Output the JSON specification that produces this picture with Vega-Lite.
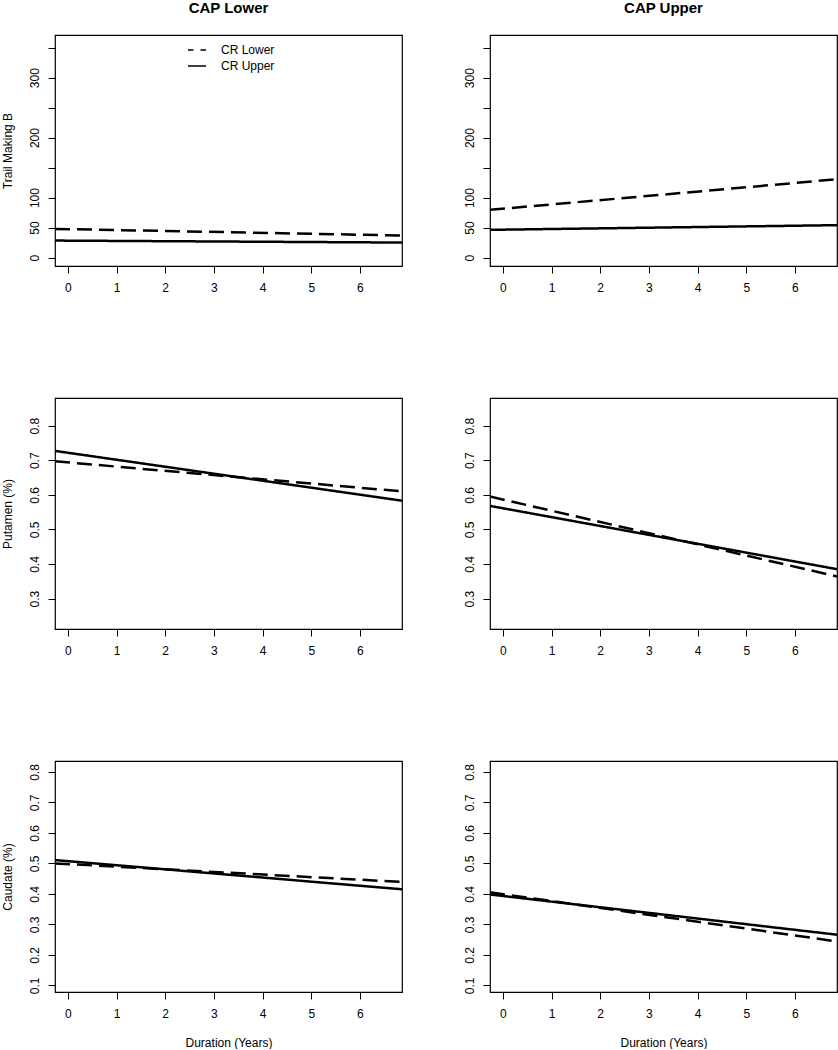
{
  "$schema": "https://vega.github.io/schema/vega-lite/v6.json",
  "padding": 0,
  "background": "white",
  "bounds": "flush",
  "columns": 2,
  "spacing": {"row": 132, "column": 88},
  "data": {
    "values": [
      {"panel": "TL", "group": "CR Lower", "x": -0.264, "y": 47.8},
      {"panel": "TL", "group": "CR Lower", "x": 6.864, "y": 36.7},
      {"panel": "TL", "group": "CR Upper", "x": -0.264, "y": 28.3},
      {"panel": "TL", "group": "CR Upper", "x": 6.864, "y": 25.0},
      {"panel": "TR", "group": "CR Lower", "x": -0.264, "y": 79.5},
      {"panel": "TR", "group": "CR Lower", "x": 6.864, "y": 130.6},
      {"panel": "TR", "group": "CR Upper", "x": -0.264, "y": 46.2},
      {"panel": "TR", "group": "CR Upper", "x": 6.864, "y": 54.0},
      {"panel": "ML", "group": "CR Lower", "x": -0.264, "y": 0.697},
      {"panel": "ML", "group": "CR Lower", "x": 6.864, "y": 0.610},
      {"panel": "ML", "group": "CR Upper", "x": -0.264, "y": 0.727},
      {"panel": "ML", "group": "CR Upper", "x": 6.864, "y": 0.583},
      {"panel": "MR", "group": "CR Lower", "x": -0.264, "y": 0.595},
      {"panel": "MR", "group": "CR Lower", "x": 6.864, "y": 0.364},
      {"panel": "MR", "group": "CR Upper", "x": -0.264, "y": 0.568},
      {"panel": "MR", "group": "CR Upper", "x": 6.864, "y": 0.385},
      {"panel": "BL", "group": "CR Lower", "x": -0.264, "y": 0.500},
      {"panel": "BL", "group": "CR Lower", "x": 6.864, "y": 0.439},
      {"panel": "BL", "group": "CR Upper", "x": -0.264, "y": 0.511},
      {"panel": "BL", "group": "CR Upper", "x": 6.864, "y": 0.415},
      {"panel": "BR", "group": "CR Lower", "x": -0.264, "y": 0.405},
      {"panel": "BR", "group": "CR Lower", "x": 6.864, "y": 0.244},
      {"panel": "BR", "group": "CR Upper", "x": -0.264, "y": 0.398},
      {"panel": "BR", "group": "CR Upper", "x": 6.864, "y": 0.266}
    ]
  },
  "resolve": {"legend": {"strokeDash": "independent"}},
  "concat": [
    {
      "width": 347, "height": 231,
      "title": {"text": "CAP Lower", "anchor": "middle", "fontSize": 15, "fontWeight": "bold", "font": "Liberation Sans", "color": "black", "offset": 19},
      "transform": [{"filter": "datum.panel === 'TL'"}],
      "mark": {"type": "line", "clip": true, "strokeWidth": 2.5, "color": "black"},
      "encoding": {
        "x": {"field": "x", "type": "quantitative", "scale": {"domain": [-0.264, 6.864], "nice": false, "zero": false}, "axis": {"values": [0, 1, 2, 3, 4, 5, 6], "title": null}},
        "y": {"field": "y", "type": "quantitative", "scale": {"domain": [-14.1, 371.1], "nice": false, "zero": false}, "axis": {"values": [0, 50, 100, 150, 200, 250, 300, 350], "labelExpr": "datum.value == 150 || datum.value == 250 || datum.value == 350 ? '' : datum.label", "title": "Trail Making B"}},
        "strokeDash": {"field": "group", "type": "nominal", "scale": {"domain": ["CR Lower", "CR Upper"], "range": [[15, 7], [1, 0]]},
          "legend": {"title": null, "orient": "none", "legendX": 132, "legendY": 5, "symbolType": "stroke", "symbolSize": 324, "symbolStrokeWidth": 1.3, "symbolStrokeColor": "black", "symbolDashOffset": 9.5, "labelFont": "Liberation Sans", "labelFontSize": 12, "labelColor": "black", "labelOffset": 14, "rowPadding": -6}}
      }
    },
    {
      "width": 347, "height": 231,
      "title": {"text": "CAP Upper", "anchor": "middle", "fontSize": 15, "fontWeight": "bold", "font": "Liberation Sans", "color": "black", "offset": 19},
      "transform": [{"filter": "datum.panel === 'TR'"}],
      "mark": {"type": "line", "clip": true, "strokeWidth": 2.5, "color": "black"},
      "encoding": {
        "x": {"field": "x", "type": "quantitative", "scale": {"domain": [-0.264, 6.864], "nice": false, "zero": false}, "axis": {"values": [0, 1, 2, 3, 4, 5, 6], "title": null}},
        "y": {"field": "y", "type": "quantitative", "scale": {"domain": [-14.1, 371.1], "nice": false, "zero": false}, "axis": {"values": [0, 50, 100, 150, 200, 250, 300, 350], "labelExpr": "datum.value == 150 || datum.value == 250 || datum.value == 350 ? '' : datum.label", "title": null}},
        "strokeDash": {"field": "group", "type": "nominal", "scale": {"domain": ["CR Lower", "CR Upper"], "range": [[15, 7], [1, 0]]}, "legend": null}
      }
    },
    {
      "width": 347, "height": 231,
      "transform": [{"filter": "datum.panel === 'ML'"}],
      "mark": {"type": "line", "clip": true, "strokeWidth": 2.5, "color": "black"},
      "encoding": {
        "x": {"field": "x", "type": "quantitative", "scale": {"domain": [-0.264, 6.864], "nice": false, "zero": false}, "axis": {"values": [0, 1, 2, 3, 4, 5, 6], "title": null}},
        "y": {"field": "y", "type": "quantitative", "scale": {"domain": [0.212, 0.88], "nice": false, "zero": false}, "axis": {"values": [0.3, 0.4, 0.5, 0.6, 0.7, 0.8], "format": ".1f", "title": "Putamen (%)"}},
        "strokeDash": {"field": "group", "type": "nominal", "scale": {"domain": ["CR Lower", "CR Upper"], "range": [[15, 7], [1, 0]]}, "legend": null}
      }
    },
    {
      "width": 347, "height": 231,
      "transform": [{"filter": "datum.panel === 'MR'"}],
      "mark": {"type": "line", "clip": true, "strokeWidth": 2.5, "color": "black"},
      "encoding": {
        "x": {"field": "x", "type": "quantitative", "scale": {"domain": [-0.264, 6.864], "nice": false, "zero": false}, "axis": {"values": [0, 1, 2, 3, 4, 5, 6], "title": null}},
        "y": {"field": "y", "type": "quantitative", "scale": {"domain": [0.212, 0.88], "nice": false, "zero": false}, "axis": {"values": [0.3, 0.4, 0.5, 0.6, 0.7, 0.8], "format": ".1f", "title": null}},
        "strokeDash": {"field": "group", "type": "nominal", "scale": {"domain": ["CR Lower", "CR Upper"], "range": [[15, 7], [1, 0]]}, "legend": null}
      }
    },
    {
      "width": 347, "height": 231,
      "transform": [{"filter": "datum.panel === 'BL'"}],
      "mark": {"type": "line", "clip": true, "strokeWidth": 2.5, "color": "black"},
      "encoding": {
        "x": {"field": "x", "type": "quantitative", "scale": {"domain": [-0.264, 6.864], "nice": false, "zero": false}, "axis": {"values": [0, 1, 2, 3, 4, 5, 6], "title": "Duration (Years)"}},
        "y": {"field": "y", "type": "quantitative", "scale": {"domain": [0.078, 0.836], "nice": false, "zero": false}, "axis": {"values": [0.1, 0.2, 0.3, 0.4, 0.5, 0.6, 0.7, 0.8], "format": ".1f", "title": "Caudate (%)"}},
        "strokeDash": {"field": "group", "type": "nominal", "scale": {"domain": ["CR Lower", "CR Upper"], "range": [[15, 7], [1, 0]]}, "legend": null}
      }
    },
    {
      "width": 347, "height": 231,
      "transform": [{"filter": "datum.panel === 'BR'"}],
      "mark": {"type": "line", "clip": true, "strokeWidth": 2.5, "color": "black"},
      "encoding": {
        "x": {"field": "x", "type": "quantitative", "scale": {"domain": [-0.264, 6.864], "nice": false, "zero": false}, "axis": {"values": [0, 1, 2, 3, 4, 5, 6], "title": "Duration (Years)"}},
        "y": {"field": "y", "type": "quantitative", "scale": {"domain": [0.078, 0.836], "nice": false, "zero": false}, "axis": {"values": [0.1, 0.2, 0.3, 0.4, 0.5, 0.6, 0.7, 0.8], "format": ".1f", "title": null}},
        "strokeDash": {"field": "group", "type": "nominal", "scale": {"domain": ["CR Lower", "CR Upper"], "range": [[15, 7], [1, 0]]}, "legend": null}
      }
    }
  ],
  "config": {
    "font": "Liberation Sans",
    "view": {"stroke": "black", "strokeWidth": 1.2},
    "axis": {
      "domain": false, "grid": false, "ticks": true, "tickColor": "black", "tickSize": 7, "tickWidth": 1,
      "labelFont": "Liberation Sans", "labelFontSize": 12, "labelColor": "black", "labelPadding": 9,
      "labelFlush": false, "labelOverlap": false,
      "titleFont": "Liberation Sans", "titleFontSize": 12, "titleFontWeight": "normal", "titleColor": "black", "titlePadding": 14
    },
    "axisX": {"titlePadding": 18},
    "axisY": {"labelAngle": -90, "labelAlign": "center", "labelBaseline": "alphabetic", "labelPadding": 10}
  }
}
